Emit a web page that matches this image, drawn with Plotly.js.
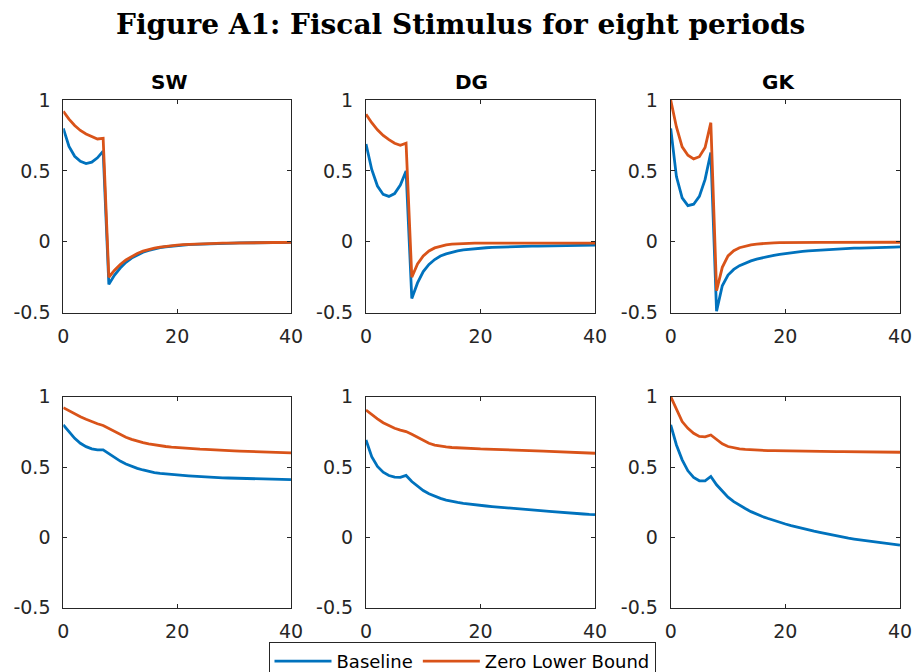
<!DOCTYPE html>
<html>
<head>
<meta charset="utf-8">
<script src="https://cdn.plot.ly/plotly-3.0.1.min.js"></script>
<style>html,body{margin:0;padding:0;background:#fff;}#chart{width:915px;height:672px;}</style>
</head>
<body>
<div id="chart"></div>
<script>
// ---- data ----
const periods = Array.from({length: 41}, (_, i) => i);
const panelTitles = ["SW", "DG", "GK"];
const seriesNames = ["Baseline", "Zero Lower Bound"];
const xTickVals = [0, 20, 40];
const yTickVals = [-0.5, 0, 0.5, 1];
const yTickText = ["-0.5", "0", "0.5", "1"];

// top row
const swBaseTop = [0.80,0.673,0.603,0.568,0.552,0.562,0.592,0.64,-0.30,-0.235,-0.185,-0.145,-0.115,-0.092,-0.074,-0.060,-0.049,-0.041,-0.035,-0.030,-0.026,-0.023,-0.020,-0.018,-0.016,-0.014,-0.013,-0.012,-0.011,-0.010,-0.009,-0.008,-0.008,-0.007,-0.007,-0.006,-0.006,-0.005,-0.005,-0.005,-0.004];
const swZlbTop  = [0.92,0.865,0.82,0.785,0.76,0.74,0.725,0.73,-0.25,-0.20,-0.16,-0.128,-0.102,-0.082,-0.066,-0.053,-0.044,-0.037,-0.031,-0.027,-0.023,-0.020,-0.018,-0.016,-0.014,-0.013,-0.012,-0.011,-0.010,-0.009,-0.008,-0.008,-0.007,-0.007,-0.006,-0.006,-0.005,-0.005,-0.005,-0.004,-0.004];
const dgBaseTop = [0.69,0.51,0.393,0.334,0.32,0.34,0.40,0.50,-0.40,-0.29,-0.21,-0.16,-0.125,-0.10,-0.085,-0.073,-0.064,-0.057,-0.052,-0.048,-0.045,-0.042,-0.040,-0.038,-0.037,-0.035,-0.034,-0.033,-0.032,-0.031,-0.030,-0.029,-0.029,-0.028,-0.027,-0.027,-0.026,-0.026,-0.025,-0.025,-0.024];
const dgZlbTop  = [0.90,0.84,0.79,0.75,0.72,0.695,0.68,0.695,-0.25,-0.156,-0.10,-0.065,-0.043,-0.030,-0.022,-0.017,-0.014,-0.012,-0.011,-0.010,-0.010,-0.010,-0.010,-0.010,-0.010,-0.010,-0.010,-0.010,-0.010,-0.010,-0.010,-0.010,-0.010,-0.010,-0.010,-0.010,-0.010,-0.010,-0.010,-0.010,-0.010];
const gkBaseTop = [0.80,0.46,0.31,0.255,0.265,0.32,0.44,0.63,-0.49,-0.31,-0.235,-0.195,-0.168,-0.150,-0.135,-0.122,-0.112,-0.103,-0.095,-0.088,-0.082,-0.077,-0.072,-0.068,-0.064,-0.061,-0.058,-0.055,-0.053,-0.051,-0.049,-0.047,-0.045,-0.044,-0.042,-0.041,-0.040,-0.039,-0.038,-0.037,-0.036];
const gkZlbTop  = [1.0,0.81,0.67,0.61,0.585,0.60,0.665,0.84,-0.345,-0.18,-0.10,-0.063,-0.042,-0.030,-0.022,-0.016,-0.012,-0.009,-0.007,-0.006,-0.005,-0.005,-0.005,-0.004,-0.004,-0.004,-0.004,-0.004,-0.004,-0.004,-0.004,-0.004,-0.003,-0.003,-0.003,-0.003,-0.003,-0.003,-0.003,-0.003,-0.003];

// bottom row
const swBaseBot = [0.80,0.752,0.704,0.669,0.645,0.629,0.622,0.622,0.595,0.566,0.542,0.522,0.505,0.491,0.479,0.469,0.461,0.455,0.45,0.446,0.443,0.44,0.437,0.434,0.431,0.429,0.427,0.425,0.423,0.422,0.421,0.419,0.418,0.417,0.416,0.415,0.414,0.413,0.412,0.411,0.41];
const swZlbBot  = [0.922,0.90,0.878,0.858,0.84,0.823,0.808,0.795,0.775,0.752,0.73,0.712,0.697,0.684,0.673,0.664,0.657,0.651,0.646,0.642,0.638,0.635,0.632,0.629,0.627,0.625,0.622,0.62,0.618,0.617,0.615,0.613,0.612,0.61,0.609,0.607,0.606,0.604,0.603,0.602,0.60];
const dgBaseBot = [0.693,0.574,0.504,0.463,0.44,0.428,0.426,0.44,0.397,0.362,0.333,0.31,0.292,0.277,0.265,0.255,0.248,0.242,0.236,0.231,0.227,0.223,0.219,0.215,0.212,0.208,0.205,0.201,0.198,0.194,0.191,0.188,0.185,0.181,0.178,0.175,0.172,0.169,0.166,0.163,0.161];
const dgZlbBot  = [0.905,0.872,0.843,0.815,0.793,0.776,0.763,0.752,0.733,0.71,0.688,0.669,0.656,0.648,0.643,0.639,0.636,0.634,0.632,0.631,0.629,0.628,0.627,0.625,0.624,0.622,0.621,0.619,0.618,0.616,0.615,0.613,0.611,0.61,0.608,0.606,0.605,0.603,0.601,0.60,0.598];
const gkBaseBot = [0.80,0.657,0.551,0.473,0.426,0.402,0.402,0.433,0.374,0.326,0.286,0.254,0.228,0.205,0.183,0.164,0.148,0.134,0.12,0.107,0.095,0.084,0.073,0.063,0.053,0.044,0.035,0.026,0.018,0.009,0.001,-0.006,-0.012,-0.018,-0.024,-0.029,-0.035,-0.04,-0.045,-0.05,-0.055];
const gkZlbBot  = [1.0,0.905,0.823,0.775,0.74,0.718,0.714,0.728,0.694,0.665,0.646,0.636,0.629,0.625,0.622,0.62,0.618,0.617,0.616,0.615,0.615,0.614,0.614,0.613,0.613,0.612,0.612,0.611,0.611,0.61,0.61,0.609,0.609,0.608,0.608,0.607,0.607,0.606,0.606,0.605,0.605];

// ---- build ----
const BLUE = "#0072BD", ORANGE = "#D95319";
const panels = [
  [swBaseTop, swZlbTop], [dgBaseTop, dgZlbTop], [gkBaseTop, gkZlbTop],
  [swBaseBot, swZlbBot], [dgBaseBot, dgZlbBot], [gkBaseBot, gkZlbBot]
];
const W = 915, H = 672;
const xDomPx = [[63.3, 291], [366, 595], [670.7, 900]];
const yDomPx = [[100, 312.7], [396.7, 607.7]];
const titleCenters = [168.5, 471.5, 778.5];

const traces = [];
panels.forEach((pair, i) => {
  const ax = i === 0 ? "" : String(i + 1);
  pair.forEach((ys, k) => {
    traces.push({
      x: periods, y: ys, type: "scatter", mode: "lines",
      name: seriesNames[k],
      line: {color: k === 0 ? BLUE : ORANGE, width: 2.8},
      xaxis: "x" + ax, yaxis: "y" + ax,
      showlegend: i === 0, legendrank: k + 1,
      hoverinfo: "skip"
    });
  });
});

const tickFont = {family: "DejaVu Sans, Liberation Sans, Arial", size: 19, color: "#262626"};
const layout = {
  width: W, height: H,
  margin: {l: 0, r: 0, t: 0, b: 0, autoexpand: false},
  paper_bgcolor: "#fff", plot_bgcolor: "#fff",
  showlegend: true,
  legend: {
    orientation: "h",
    x: 462 / W, xanchor: "center", y: 1 - 642 / H, yanchor: "top",
    bordercolor: "#262626", borderwidth: 1, bgcolor: "#fff",
    font: {family: "DejaVu Sans, Liberation Sans, Arial", size: 18, color: "#000"},
    itemwidth: 57, traceorder: "normal"
  },
  annotations: []
};

for (let i = 0; i < 6; i++) {
  const ax = i === 0 ? "" : String(i + 1);
  const col = i % 3, row = Math.floor(i / 3);
  layout["xaxis" + ax] = {
    domain: [xDomPx[col][0] / W, xDomPx[col][1] / W],
    anchor: "y" + ax, range: [0, 40],
    tickvals: xTickVals, ticktext: xTickVals.map(String),
    ticks: "inside", ticklen: 4, tickwidth: 1, tickcolor: "#262626",
    showline: true, linecolor: "#262626", linewidth: 1, mirror: "ticks",
    showgrid: false, zeroline: false, tickfont: tickFont, ticklabelstandoff: 6
  };
  layout["yaxis" + ax] = {
    domain: [1 - yDomPx[row][1] / H, 1 - yDomPx[row][0] / H],
    anchor: "x" + ax, range: [-0.5, 1],
    tickvals: yTickVals, ticktext: yTickText,
    ticks: "inside", ticklen: 4, tickwidth: 1, tickcolor: "#262626",
    showline: true, linecolor: "#262626", linewidth: 1, mirror: "ticks",
    showgrid: false, zeroline: false, tickfont: tickFont, ticklabelstandoff: 8
  };
}

layout.annotations.push({
  text: "Figure A1: Fiscal Stimulus for eight periods",
  xref: "paper", yref: "paper", x: 460 / W, y: 1 - 25 / H,
  xanchor: "center", yanchor: "middle", showarrow: false,
  font: {family: "DejaVu Serif, Liberation Serif, serif", size: 28, weight: "bold", color: "#000"}
});
panelTitles.forEach((t, c) => {
  layout.annotations.push({
    text: "<b>" + t + "</b>",
    xref: "paper", yref: "paper",
    x: titleCenters[c] / W, y: 1 - 82 / H,
    xanchor: "center", yanchor: "middle", showarrow: false,
    font: {family: "DejaVu Sans, Liberation Sans, Arial", size: 20, color: "#000"}
  });
});

Plotly.newPlot("chart", traces, layout, {staticPlot: true, displayModeBar: false});
</script>
</body>
</html>
